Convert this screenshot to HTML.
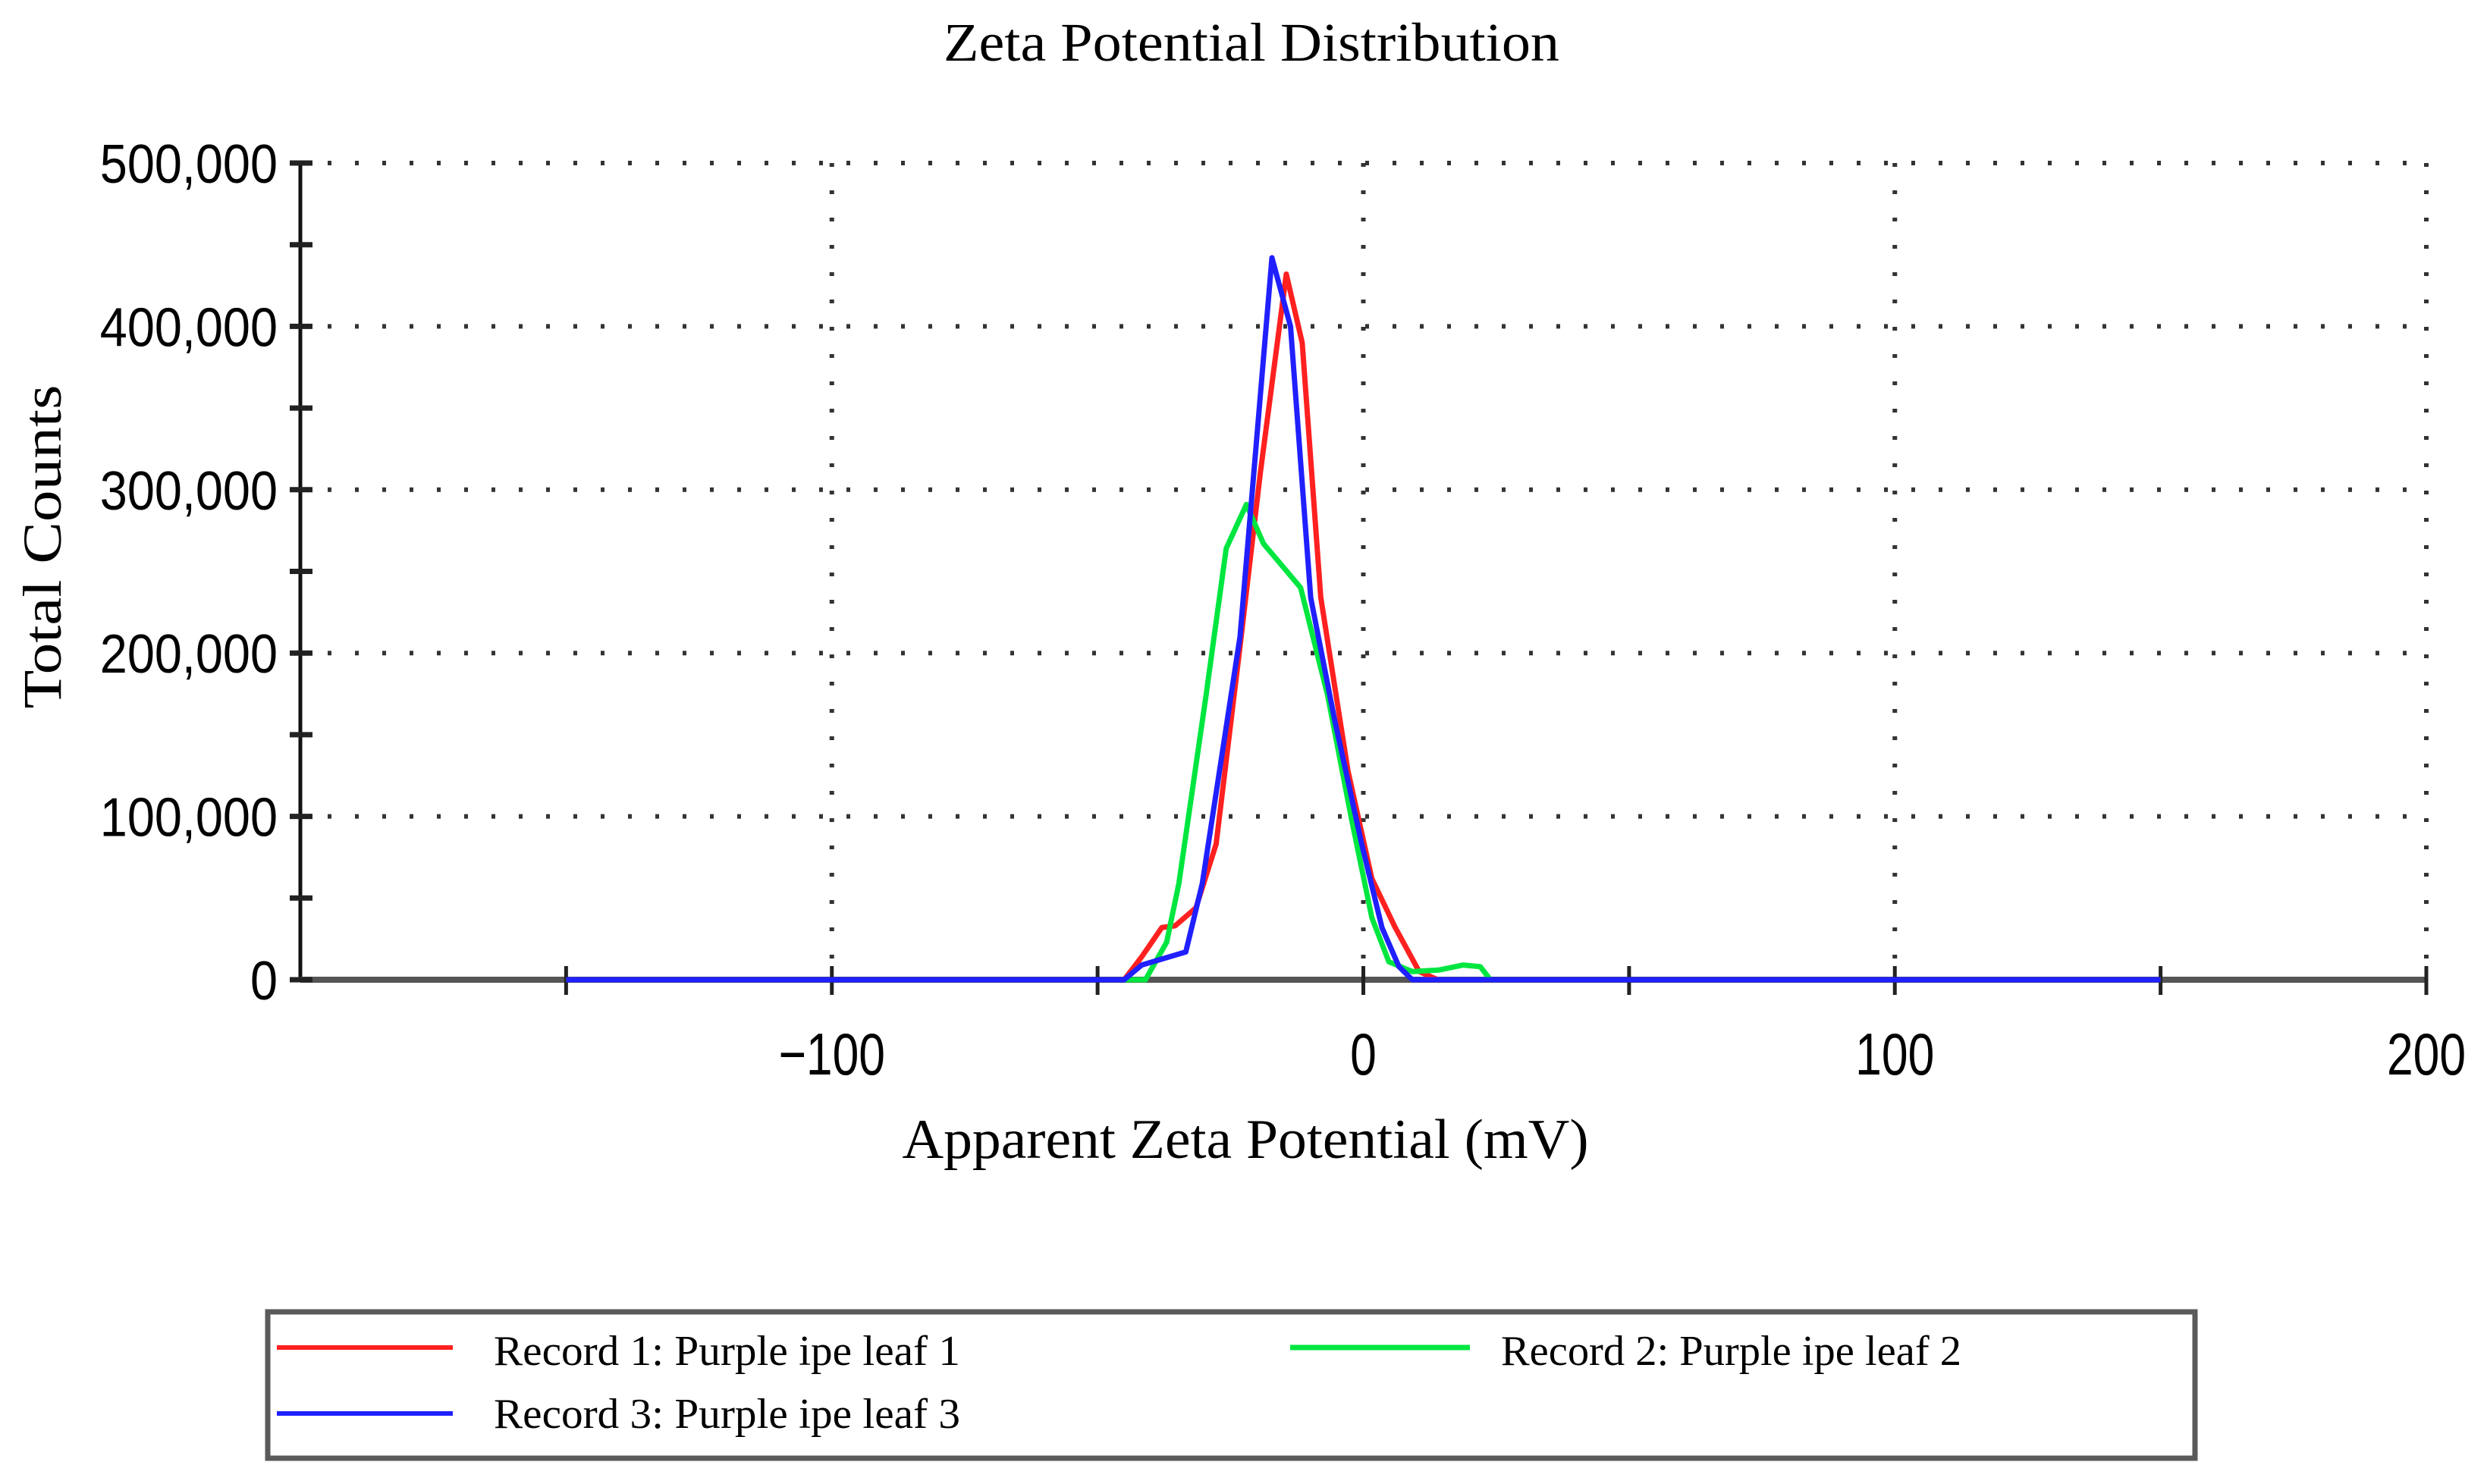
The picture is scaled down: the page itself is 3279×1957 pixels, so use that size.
<!DOCTYPE html>
<html><head><meta charset="utf-8"><style>
html,body{margin:0;padding:0;background:#fff;}
svg{display:block;}
</style></head><body>
<svg id="chart" width="3279" height="1957" viewBox="0 0 3279 1957" xmlns="http://www.w3.org/2000/svg">
<rect x="0" y="0" width="3279" height="1957" fill="#fff"/>
<text x="1650" y="80" text-anchor="middle" font-family="Liberation Serif, serif" font-size="72" textLength="812" lengthAdjust="spacingAndGlyphs">Zeta Potential Distribution</text>
<g id="grid"></g>
<g id="axes"></g>
<g id="series"></g>
<text x="1642" y="1527" text-anchor="middle" font-family="Liberation Serif, serif" font-size="74" textLength="905" lengthAdjust="spacingAndGlyphs">Apparent Zeta Potential (mV)</text>
<text transform="translate(80,721) rotate(-90)" text-anchor="middle" font-family="Liberation Serif, serif" font-size="72" textLength="427" lengthAdjust="spacingAndGlyphs">Total Counts</text>
<g>
<rect x="353" y="1730" width="2541" height="193" fill="#fff" stroke="#5a5a5a" stroke-width="7"/>
<line x1="365" y1="1777" x2="597" y2="1777" stroke="#ff2020" stroke-width="6"/>
<text x="651" y="1800" font-family="Liberation Serif, serif" font-size="56" textLength="615" lengthAdjust="spacingAndGlyphs">Record 1: Purple ipe leaf 1</text>
<line x1="1701" y1="1777" x2="1938" y2="1777" stroke="#00e640" stroke-width="7"/>
<text x="1979" y="1800" font-family="Liberation Serif, serif" font-size="56" textLength="607" lengthAdjust="spacingAndGlyphs">Record 2: Purple ipe leaf 2</text>
<line x1="365" y1="1864" x2="597" y2="1864" stroke="#2020ff" stroke-width="6"/>
<text x="651" y="1883" font-family="Liberation Serif, serif" font-size="56" textLength="615" lengthAdjust="spacingAndGlyphs">Record 3: Purple ipe leaf 3</text>
</g>
</svg>
<script>
const xTicks = [-100, 0, 100, 200];
const xTickLabels = ["\u2212100", "0", "100", "200"];
const xMinorTicks = [-150, -50, 50, 150];
const yTicks = [0, 100000, 200000, 300000, 400000, 500000];
const yTickLabels = ["0", "100,000", "200,000", "300,000", "400,000", "500,000"];
const record1X = [-150, -45, -41.7, -37.9, -35.4, -31.5, -27.7, -23.2, -19.4, -14.5, -11.5, -8, -2.9, 1.6, 6, 10.5, 14, 150];
const record1Y = [0, 0, 14000, 32000, 33000, 44000, 83000, 204000, 310000, 432000, 390000, 234000, 128000, 62000, 32000, 5000, 0, 0];
const record2X = [-150, -45.5, -41, -37, -34.7, -29.6, -25.8, -22, -18.8, -11.8, -6.7, -2.2, 1.6, 4.8, 9.2, 14.3, 18.8, 22, 23.9, 150];
const record2Y = [0, 0, 0, 23000, 59000, 174000, 264000, 291000, 267000, 240000, 174000, 98000, 38000, 11000, 5000, 6000, 9000, 8000, 0, 0];
const record3X = [-150, -45, -41.7, -33.4, -30.3, -23.2, -17.2, -13.7, -9.9, -5.4, -0.3, 3.5, 6.7, 9.2, 150];
const record3Y = [0, 0, 9000, 17000, 59000, 210000, 442000, 400000, 234000, 159000, 83000, 32000, 8000, 0, 0];

const NS = "http://www.w3.org/2000/svg";
const X0 = 396, X1 = 3199, Y0 = 1292, Y1 = 215;
function xs(v){ return X0 + (v + 200) / 400 * (X1 - X0); }
function ys(v){ return Y0 - v / 500000 * (Y0 - Y1); }
function mk(tag, attrs, parent){ const e = document.createElementNS(NS, tag); for (const k in attrs) e.setAttribute(k, attrs[k]); parent.appendChild(e); return e; }

const grid = document.getElementById('grid');
const axes = document.getElementById('axes');
const series = document.getElementById('series');

yTicks.forEach(function(t){
  if (t === 0) return;
  const l = mk('line', {x1: X0, x2: X1, y1: ys(t), y2: ys(t), stroke: '#333', 'stroke-width': 6, 'stroke-dasharray': '5 31'}, grid);
  
  
});
xTicks.forEach(function(t){
  const l = mk('line', {x1: xs(t), x2: xs(t), y1: Y1, y2: Y0, stroke: '#333', 'stroke-width': 6, 'stroke-dasharray': '5 31'}, grid);
  
  
});

const ya = mk('line', {x1: X0, x2: X0, y1: Y1, y2: Y0, stroke: '#111', 'stroke-width': 5}, axes);


const xa = mk('line', {x1: X0, x2: X1, y1: Y0, y2: Y0, stroke: '#555', 'stroke-width': 8}, axes);



for (let v = 0; v <= 500000; v += 50000) {
  const t = mk('line', {x1: X0 - 14, x2: X0 + 16, y1: ys(v), y2: ys(v), stroke: '#222', 'stroke-width': 7}, axes);
  
  
}
yTicks.forEach(function(t, i){
  const tx = mk('text', {x: 366, y: ys(t) + 26, 'text-anchor': 'end', 'font-family': 'Liberation Sans, sans-serif', 'font-size': 72, 'transform-origin': '366px ' + ys(t) + 'px', transform: 'scale(0.9,1)'}, axes);
  tx.textContent = yTickLabels[i];
  
  
});
xTicks.concat(xMinorTicks).forEach(function(t){
  const l = mk('line', {x1: xs(t), x2: xs(t), y1: Y0 - 18, y2: Y0 + 20, stroke: '#222', 'stroke-width': 5}, axes);
  
  
});
xTicks.forEach(function(t, i){
  const tx = mk('text', {x: xs(t), y: Y0 + 125, 'text-anchor': 'middle', 'font-family': 'Liberation Sans, sans-serif', 'font-size': 78, 'transform-origin': xs(t) + 'px ' + (Y0 + 100) + 'px', transform: 'scale(0.8,1)'}, axes);
  tx.textContent = xTickLabels[i];
  
  
});

function drawSeries(xv, yv, color, name){
  const d = xv.map(function(x, i){ return (i ? 'L' : 'M') + xs(x).toFixed(1) + ' ' + ys(yv[i]).toFixed(1); }).join(' ');
  const p = mk('path', {d: d, fill: 'none', stroke: color, 'stroke-width': 7, 'stroke-linejoin': 'round'}, series);
  
  
}
drawSeries(record1X, record1Y, '#ff2020', 'series-record-1');
drawSeries(record2X, record2Y, '#00e640', 'series-record-2');
drawSeries(record3X, record3Y, '#2020ff', 'series-record-3');
</script>
</body></html>
